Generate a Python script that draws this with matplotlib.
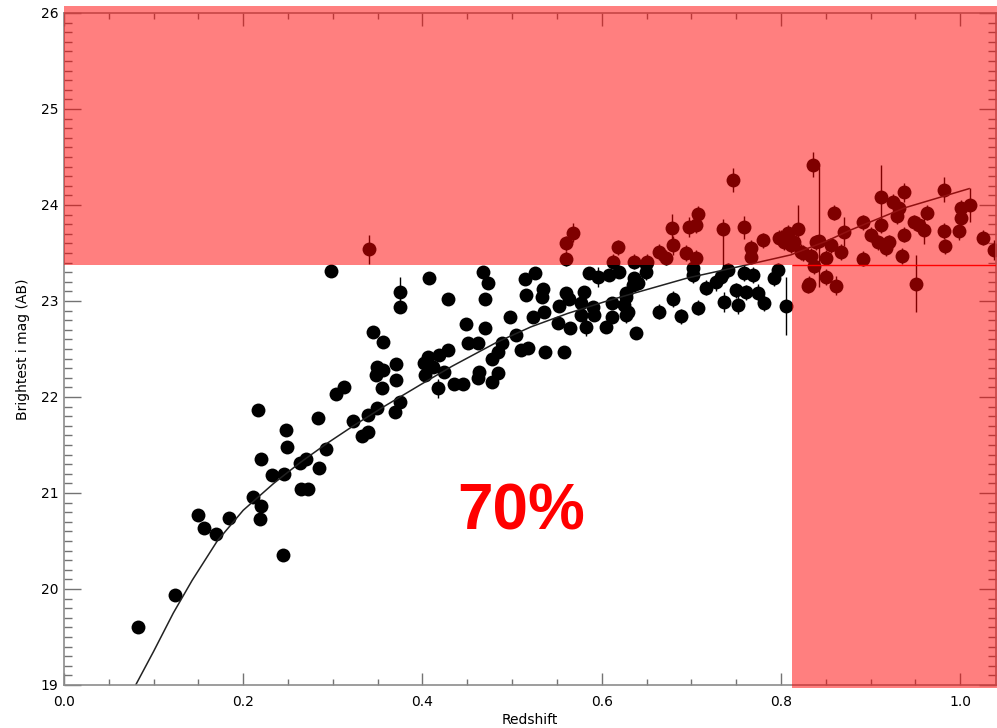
import matplotlib
matplotlib.use("Agg")
import matplotlib.pyplot as plt
from matplotlib.patches import Rectangle
from matplotlib.ticker import MultipleLocator

# points: redshift, brightest i mag, error
redshift = [
    0.083, 0.124, 0.149, 0.156, 0.170, 0.184, 0.211, 0.220, 0.219, 0.217,
    0.244, 0.248, 0.249, 0.220, 0.232, 0.246, 0.263, 0.270, 0.264, 0.272,
    0.283, 0.285, 0.292, 0.303, 0.312, 0.323, 0.332, 0.339, 0.339, 0.349,
    0.349, 0.356, 0.348, 0.355, 0.371, 0.370, 0.369, 0.375, 0.340, 0.298,
    0.375, 0.375, 0.407, 0.345, 0.356, 0.402, 0.406, 0.403,
    0.568, 0.560, 0.560, 0.618, 0.613, 0.636, 0.468, 0.473, 0.470, 0.428,
    0.526, 0.514, 0.515, 0.535, 0.533, 0.586, 0.596, 0.608, 0.619, 0.635,
    0.636, 0.580, 0.560, 0.563, 0.552, 0.536, 0.523, 0.498, 0.449, 0.470,
    0.551, 0.577, 0.590, 0.577, 0.591, 0.565, 0.582, 0.605, 0.612, 0.612,
    0.625, 0.629, 0.638, 0.627, 0.451, 0.462, 0.504, 0.489, 0.484, 0.478,
    0.510, 0.518, 0.537, 0.558, 0.429, 0.418, 0.412, 0.424, 0.417, 0.435,
    0.445, 0.463, 0.462, 0.484, 0.478,
    0.707, 0.697, 0.705, 0.679, 0.759, 0.780, 0.767, 0.819, 0.808, 0.803,
    0.815, 0.839, 0.664, 0.680, 0.672, 0.694, 0.705, 0.651, 0.825, 0.649,
    0.746, 0.800, 0.767,
    0.702, 0.702, 0.649, 0.640, 0.627, 0.627, 0.664, 0.680, 0.688, 0.707,
    0.716, 0.727, 0.733, 0.736, 0.741, 0.750, 0.752, 0.761, 0.759, 0.769,
    0.774, 0.781, 0.792, 0.797, 0.806, 0.831, 0.837,
    0.836, 0.798, 0.811, 0.822, 0.834, 0.850, 0.856, 0.867, 0.870, 0.859,
    0.892, 0.892, 0.850, 0.862, 0.830, 0.901, 0.908, 0.912, 0.912, 0.917,
    0.921, 0.925, 0.932, 0.937, 0.929, 0.937, 0.935, 0.951, 0.949, 0.954,
    0.963, 0.960, 0.982, 0.982, 0.983, 0.999, 1.001, 1.001, 1.011, 1.026,
    1.038,
]
mag = [
    19.60, 19.94, 20.77, 20.63, 20.57, 20.74, 20.96, 20.86, 20.73, 21.86,
    20.35, 21.66, 21.48, 21.35, 21.19, 21.20, 21.31, 21.35, 21.04, 21.04,
    21.78, 21.26, 21.46, 22.03, 22.10, 21.75, 21.59, 21.64, 21.81, 21.89,
    22.31, 22.28, 22.23, 22.09, 22.34, 22.18, 21.84, 21.95, 23.54, 23.31,
    23.09, 22.94, 23.24, 22.68, 22.57, 22.35, 22.42, 22.23,
    23.71, 23.60, 23.44, 23.56, 23.41, 23.41, 23.30, 23.19, 23.02, 23.02,
    23.29, 23.23, 23.06, 23.12, 23.04, 23.29, 23.25, 23.27, 23.30, 23.17,
    23.24, 23.09, 23.08, 23.02, 22.95, 22.89, 22.83, 22.83, 22.76, 22.72,
    22.77, 22.98, 22.94, 22.85, 22.85, 22.72, 22.73, 22.73, 22.83, 22.98,
    22.96, 22.88, 22.67, 23.08, 22.56, 22.56, 22.65, 22.56, 22.47, 22.40,
    22.49, 22.51, 22.47, 22.47, 22.49, 22.44, 22.31, 22.26, 22.09, 22.13,
    22.13, 22.26, 22.20, 22.25, 22.16,
    23.91, 23.77, 23.79, 23.76, 23.77, 23.63, 23.55, 23.75, 23.71, 23.61,
    23.61, 23.61, 23.51, 23.58, 23.45, 23.50, 23.45, 23.41, 23.50, 23.38,
    24.26, 23.66, 23.46,
    23.34, 23.27, 23.30, 23.19, 23.04, 22.85, 22.89, 23.02, 22.84, 22.93,
    23.14, 23.20, 23.25, 22.99, 23.32, 23.11, 22.96, 23.09, 23.29, 23.27,
    23.08, 22.98, 23.24, 23.32, 22.95, 23.18, 23.36,
    24.42, 23.66, 23.58, 23.51, 23.47, 23.45, 23.58, 23.51, 23.72, 23.92,
    23.82, 23.44, 23.25, 23.16, 23.16, 23.69, 23.61, 23.79, 24.08, 23.55,
    23.61, 24.03, 23.97, 24.13, 23.88, 23.69, 23.47, 23.18, 23.82, 23.79,
    23.92, 23.74, 24.16, 23.73, 23.57, 23.73, 23.97, 23.86, 24.00, 23.66,
    23.53,
]
mag_err = [
    0.03, 0.03, 0.03, 0.03, 0.03, 0.03, 0.03, 0.03, 0.03, 0.03,
    0.03, 0.03, 0.03, 0.03, 0.03, 0.03, 0.03, 0.03, 0.03, 0.03,
    0.03, 0.03, 0.03, 0.03, 0.03, 0.03, 0.03, 0.03, 0.03, 0.03,
    0.03, 0.03, 0.03, 0.03, 0.03, 0.03, 0.03, 0.03, 0.15, 0.05,
    0.16, 0.05, 0.06, 0.05, 0.05, 0.05, 0.05, 0.05,
    0.10, 0.08, 0.08, 0.08, 0.08, 0.08, 0.05, 0.05, 0.05, 0.05,
    0.05, 0.05, 0.05, 0.05, 0.05, 0.06, 0.10, 0.06, 0.06, 0.06,
    0.06, 0.06, 0.06, 0.06, 0.06, 0.06, 0.06, 0.06, 0.06, 0.06,
    0.06, 0.06, 0.06, 0.06, 0.06, 0.06, 0.10, 0.06, 0.06, 0.06,
    0.06, 0.06, 0.06, 0.06, 0.05, 0.05, 0.05, 0.05, 0.05, 0.05,
    0.05, 0.05, 0.05, 0.05, 0.05, 0.05, 0.05, 0.05, 0.10, 0.05,
    0.05, 0.05, 0.05, 0.05, 0.05,
    0.08, 0.10, 0.08, 0.15, 0.12, 0.08, 0.08, 0.25, 0.08, 0.08,
    0.08, 0.08, 0.08, 0.10, 0.08, 0.08, 0.08, 0.08, 0.08, 0.08,
    0.12, 0.08, 0.08,
    0.08, 0.08, 0.08, 0.08, 0.08, 0.08, 0.08, 0.08, 0.08, 0.08,
    0.08, 0.10, 0.08, 0.10, 0.08, 0.08, 0.10, 0.08, 0.08, 0.08,
    0.10, 0.08, 0.08, 0.08, 0.30, 0.08, 0.08,
    0.13, 0.08, 0.08, 0.08, 0.08, 0.08, 0.08, 0.08, 0.15, 0.08,
    0.08, 0.08, 0.08, 0.10, 0.08, 0.08, 0.08, 0.08, 0.34, 0.08,
    0.08, 0.08, 0.08, 0.10, 0.08, 0.08, 0.08, 0.30, 0.08, 0.08,
    0.08, 0.15, 0.13, 0.08, 0.08, 0.10, 0.08, 0.08, 0.18, 0.08,
    0.10,
]

# a few points with lopsided error bars
odd_z = [0.735, 0.842]
odd_mag = [23.75, 23.62]
odd_err_lo = [0.40, 0.47]
odd_err_hi = [0.10, 0.78]

# fitted curve
curve_z = [0.080, 0.100, 0.122, 0.143, 0.171, 0.200, 0.234, 0.264, 0.294,
           0.323, 0.357, 0.400, 0.433, 0.483, 0.521, 0.562, 0.606, 0.647,
           0.696, 0.740, 0.778, 0.811, 0.850, 0.878, 0.938, 1.010]
curve_mag = [19.00, 19.35, 19.75, 20.09, 20.50, 20.82, 21.10, 21.32, 21.52,
             21.70, 21.90, 22.14, 22.32, 22.57, 22.73, 22.87, 23.00, 23.11,
             23.24, 23.33, 23.41, 23.48, 23.62, 23.74, 23.97, 24.17]

z_cut = 0.812
mag_cut = 23.375

fig = plt.figure(figsize=(9.97, 7.28), dpi=100)
ax = fig.add_axes([0.0642, 0.0591, 0.9348, 0.9231])

ax.errorbar(redshift, mag, yerr=mag_err, fmt="o", color="black", ms=10,
            mew=0, ecolor="black", elinewidth=1, capsize=3.6, capthick=1,
            zorder=2)
ax.errorbar(odd_z, odd_mag, yerr=[odd_err_lo, odd_err_hi], fmt="o",
            color="black", ms=10, mew=0, ecolor="black", elinewidth=1,
            capsize=3.6, capthick=1, zorder=2)
ax.plot(curve_z, curve_mag, color="#222222", lw=1.1, zorder=2.2)

ax.set_xlim(0, 1.04)
ax.set_ylim(19, 26)

# shaded regions (drawn over the points, like the original)
ax.add_patch(Rectangle((0, mag_cut), 1.05, 26.07 - mag_cut, facecolor="red",
                       alpha=0.5, lw=0, zorder=3, clip_on=False))
ax.add_patch(Rectangle((z_cut, 18.97), 1.05 - z_cut, mag_cut - 18.97,
                       facecolor="red", alpha=0.5, lw=0, zorder=3,
                       clip_on=False))
ax.hlines(mag_cut, z_cut, 1.04, color="red", lw=1, zorder=3.5)

ax.text(0.51, 20.8, "70%", color="red", fontsize=46, fontweight="bold",
        family=["Liberation Sans", "DejaVu Sans"], ha="center", va="center")

ax.xaxis.set_major_locator(MultipleLocator(0.2))
ax.xaxis.set_minor_locator(MultipleLocator(0.05))
ax.yaxis.set_major_locator(MultipleLocator(1))
ax.yaxis.set_minor_locator(MultipleLocator(0.1))
ax.tick_params(which="both", direction="in", top=True, right=True,
               color="0.45", width=1, labelsize=10)
ax.tick_params(axis="x", which="major", length=9, pad=7)
ax.tick_params(axis="x", which="minor", length=4.5)
ax.tick_params(axis="y", which="major", length=12, pad=4)
ax.tick_params(axis="y", which="minor", length=5.5)
for s in ax.spines.values():
    s.set_color("0.55")
    s.set_linewidth(1.2)

ax.set_xticks([0.0, 0.2, 0.4, 0.6, 0.8, 1.0])
ax.set_xticklabels(["0.0", "0.2", "0.4", "0.6", "0.8", "1.0"])
ax.set_xlabel("Redshift", fontsize=10, labelpad=3)
ax.set_ylabel("Brightest i mag (AB)", fontsize=10, labelpad=8)

fig.savefig("out.png", dpi=100)
